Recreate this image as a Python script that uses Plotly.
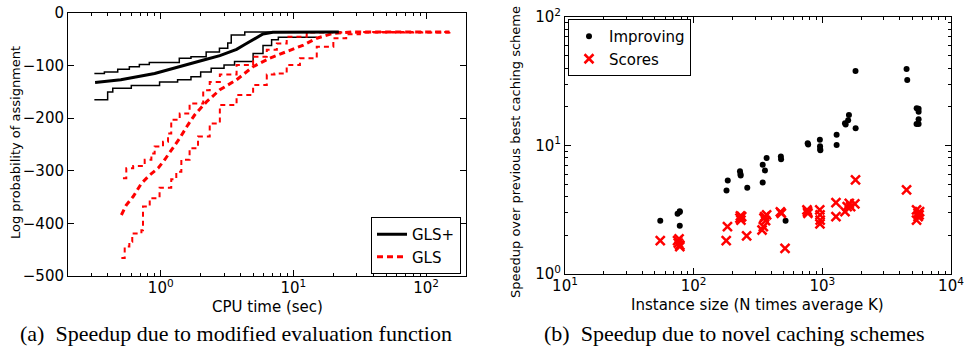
import plotly.graph_objects as go

# ---------------- Data: panel (a) ----------------
glsp_med_t = [0.32, 0.5, 0.9, 1.42, 2.14, 2.79, 3.2, 3.73, 4.3, 4.97, 5.5, 5.9, 7.0, 10, 22]
glsp_med_v = [-132, -127, -115, -102, -89, -81, -76, -69, -60, -51, -44, -40, -36.5, -36, -36]

glsp_hi_t = [0.316, 0.376, 0.474, 0.58, 0.69, 0.82, 1.07, 1.38, 1.69, 2.2, 2.77, 3.2, 3.4, 4.3, 23]
glsp_hi_v = [-115, -112, -107, -102, -98, -94, -94, -86, -83, -74, -67, -57, -42, -36, -36]

glsp_lo_t = [0.316, 0.365, 0.398, 0.435, 0.6, 0.98, 1.34, 1.69, 2.0, 2.4, 3.0, 3.6, 4.97, 5.9, 6.85, 7.7, 15]
glsp_lo_v = [-165, -165, -150, -143, -138, -131, -127, -121, -112, -105, -99, -92, -77, -62, -51, -46, -46]

gls_hi_t = [0.519, 0.55, 0.62, 0.715, 0.757, 0.85, 0.90, 1.04, 1.135, 1.2, 1.39, 1.65, 2.09, 2.34, 2.79,
            3.73, 4.97, 6.3, 7.5, 8.9, 12.6, 150]
gls_hi_v = [-314, -295, -291, -291, -279, -267, -254, -245, -229, -203, -191, -172, -147, -131, -117,
            -99, -83, -70, -58, -45, -37, -36]

gls_med_t = [0.505, 0.55, 0.62, 0.715, 0.826, 0.955, 1.07, 1.24, 1.39, 1.6, 1.8, 2.21, 2.79, 3.73, 4.97,
             6.6, 8.9, 11.9, 15, 20, 28, 150]
gls_med_v = [-384, -365, -349, -324, -308, -295, -279, -257, -238, -213, -194, -169, -146, -127, -102,
             -86, -73.5, -61, -48, -38.6, -36, -36]

gls_lo_t = [0.505, 0.535, 0.58, 0.61, 0.715, 0.735, 0.826, 0.98, 1.2, 1.31, 1.43, 1.65, 1.91, 2.34, 2.79,
            3.73, 4.97, 6.3, 7.2, 8.9, 11.2, 15, 20, 25, 31.7, 150]
gls_lo_v = [-466, -444, -435, -419, -413, -368, -352, -332, -316, -302, -279, -257, -235, -210, -175,
            -156, -137, -117, -115, -99, -86, -64, -48, -40.5, -36, -36]

# ---------------- Data: panel (b) ----------------
imp_x = [55, 75, 78, 78, 78, 180, 184, 229, 231, 232, 261, 344, 344, 358, 369, 476, 478, 518,
         769, 776, 957, 960, 962, 965, 1291, 1291, 1500, 1518, 1587, 1610, 1811, 1815,
         4515, 4570, 5410, 5600, 5600, 5600, 5400, 5600]
imp_y = [2.60, 2.94, 3.04, 3.08, 2.37, 4.46, 5.34, 6.3, 6.0, 5.85, 4.68, 7.07, 5.15, 6.39, 8.01,
         8.21, 7.83, 2.60, 10.4, 10.2, 11.1, 9.85, 9.4, 9.2, 12.1, 10.1, 14.9, 14.6, 15.7, 17.3, 38.0, 13.6,
         39.3, 32.3, 19.5, 19.3, 18.3, 16.0, 14.7, 14.7]

sc_x = [55, 75, 77, 78, 78, 76, 179, 183, 229, 231, 233, 236, 258, 340, 348, 352, 356, 362, 369,
        472, 480, 513, 760, 772, 768, 955, 960, 962, 958, 1276, 1276, 1500, 1560, 1620, 1660,
        1811, 1790, 4515, 5400, 5550, 5550, 5400, 5650, 5700]
sc_y = [1.82, 1.82, 1.88, 1.68, 1.63, 1.74, 1.82, 2.34, 2.72, 2.83, 2.63, 2.80, 1.98, 2.20, 2.34, 2.72,
        2.80, 2.60, 2.88, 3.04, 2.97, 1.585, 3.15, 2.97, 3.06, 3.15, 2.88, 2.63, 2.45, 3.59, 2.80,
        3.06, 3.35, 3.55, 3.35, 5.40, 3.51, 4.51, 3.15, 2.97, 2.80, 2.63, 2.88, 3.06]

xa_ticks = [1, 10, 100]
xa_labels = ["10<sup>0</sup>", "10<sup>1</sup>", "10<sup>2</sup>"]
ya_ticks = [-500, -400, -300, -200, -100, 0]
xb_ticks = [10, 100, 1000, 10000]
xb_labels = ["10<sup>1</sup>", "10<sup>2</sup>", "10<sup>3</sup>", "10<sup>4</sup>"]
yb_ticks = [1, 10, 100]
yb_labels = ["10<sup>0</sup>", "10<sup>1</sup>", "10<sup>2</sup>"]

def minor_log(lo, hi):
    out = []
    d = lo
    while d < hi:
        for m in range(2, 10):
            v = d * m
            if v <= hi:
                out.append(v)
        d *= 10
    return out

W, H = 964, 346
FONT = "DejaVu Sans"

fig = go.Figure()

# panel (a) traces
fig.add_trace(go.Scatter(x=glsp_hi_t, y=glsp_hi_v, mode="lines", line=dict(color="black", width=1.5, shape="hv"),
                         xaxis="x", yaxis="y", showlegend=False, legendgroup="a1"))
fig.add_trace(go.Scatter(x=glsp_lo_t, y=glsp_lo_v, mode="lines", line=dict(color="black", width=1.5, shape="hv"),
                         xaxis="x", yaxis="y", showlegend=False, legendgroup="a1"))
fig.add_trace(go.Scatter(x=gls_hi_t, y=gls_hi_v, mode="lines", line=dict(color="red", width=2, dash="5px,4px", shape="hv"),
                         xaxis="x", yaxis="y", showlegend=False, legendgroup="a2"))
fig.add_trace(go.Scatter(x=gls_lo_t, y=gls_lo_v, mode="lines", line=dict(color="red", width=2, dash="5px,4px", shape="hv"),
                         xaxis="x", yaxis="y", showlegend=False, legendgroup="a2"))
fig.add_trace(go.Scatter(x=gls_med_t, y=gls_med_v, mode="lines", name="GLS",
                         line=dict(color="red", width=3, dash="6px,4px"),
                         xaxis="x", yaxis="y", legend="legend", legendgroup="a2", legendrank=2))
fig.add_trace(go.Scatter(x=glsp_med_t, y=glsp_med_v, mode="lines", name="GLS+",
                         line=dict(color="black", width=3),
                         xaxis="x", yaxis="y", legend="legend", legendgroup="a1", legendrank=1))

# panel (b) traces
fig.add_trace(go.Scatter(x=imp_x, y=imp_y, mode="markers", name="Improving",
                         marker=dict(color="black", size=6, symbol="circle"),
                         xaxis="x2", yaxis="y2", legend="legend2"))
fig.add_trace(go.Scatter(x=sc_x, y=sc_y, mode="markers", name="Scores",
                         marker=dict(color="red", size=9, symbol="x-thin", line=dict(color="red", width=2.5)),
                         xaxis="x2", yaxis="y2", legend="legend2"))

axis_common = dict(showline=True, linecolor="black", linewidth=1, mirror="ticks", ticks="inside",
                   ticklen=6, tickcolor="black", showgrid=False, zeroline=False, automargin=False,
                   ticklabeloverflow="allow",
                   tickfont=dict(family=FONT, size=15, color="black"))

xa0, xa1 = 68 / W, 466 / W
ya0, ya1 = 1 - 276 / H, 1 - 13 / H
xb0, xb1 = 565 / W, 951 / W
yb0, yb1 = 1 - 274 / H, 1 - 17 / H

fig.update_layout(
    width=W, height=H, margin=dict(l=0, r=0, t=0, b=0, pad=0),
    paper_bgcolor="white", plot_bgcolor="white",
    xaxis=dict(axis_common, type="log", domain=[xa0, xa1], range=[-0.699, 2.301], anchor="y",
               tickmode="array", tickvals=xa_ticks, ticktext=xa_labels, ticklabelstandoff=-2,
               minor=dict(ticks="inside", ticklen=3, tickcolor="black", tickmode="array",
                          tickvals=minor_log(0.1, 200))),
    yaxis=dict(axis_common, domain=[ya0, ya1], range=[-500, 0], anchor="x",
               tickmode="array", tickvals=ya_ticks),
    xaxis2=dict(axis_common, type="log", domain=[xb0, xb1], range=[1, 4], anchor="y2",
                tickmode="array", tickvals=xb_ticks, ticktext=xb_labels, ticklabelstandoff=-2,
                minor=dict(ticks="inside", ticklen=3, tickcolor="black", tickmode="array",
                           tickvals=minor_log(10, 10000))),
    yaxis2=dict(axis_common, type="log", domain=[yb0, yb1], range=[0, 2], anchor="x2",
                tickmode="array", tickvals=yb_ticks, ticktext=yb_labels,
                minor=dict(ticks="inside", ticklen=3, tickcolor="black", tickmode="array",
                           tickvals=minor_log(1, 100))),
    legend=dict(x=461 / W, y=1 - 274 / H, xanchor="right", yanchor="bottom", itemwidth=30,
                bgcolor="white", bordercolor="black", borderwidth=1,
                font=dict(family=FONT, size=15, color="black"), tracegroupgap=0),
    legend2=dict(x=568 / W, y=1 - 19 / H, xanchor="left", yanchor="top", itemwidth=30,
                 bgcolor="white", bordercolor="black", borderwidth=1,
                 font=dict(family=FONT, size=15, color="black")),
)

ann = [
    dict(text="CPU time (sec)", x=267 / W, y=1 - 307 / H, font=dict(family=FONT, size=15)),
    dict(text="Log probability of assignment", x=15 / W, y=1 - 143 / H, textangle=-90, font=dict(family=FONT, size=13)),
    dict(text="Instance size (N times average K)", x=757 / W, y=1 - 305 / H, font=dict(family=FONT, size=15)),
    dict(text="Speedup over previous best caching scheme", x=515 / W, y=1 - 152 / H, textangle=-90, font=dict(family=FONT, size=13)),
    dict(text="(a)\u00a0\u00a0Speedup due to modified evaluation function", x=236 / W, y=1 - 333 / H,
         font=dict(family="Liberation Serif", size=22)),
    dict(text="(b)\u00a0\u00a0Speedup due to novel caching schemes", x=734 / W, y=1 - 333 / H,
         font=dict(family="Liberation Serif", size=22)),
]
for a in ann:
    a.update(xref="paper", yref="paper", showarrow=False, xanchor="center", yanchor="middle")
    a["font"]["color"] = "black"
fig.update_layout(annotations=ann)

fig.write_html("out.html", config={"displayModeBar": False},
               post_script="document.body.style.margin='0px';document.body.style.overflow='hidden';")
